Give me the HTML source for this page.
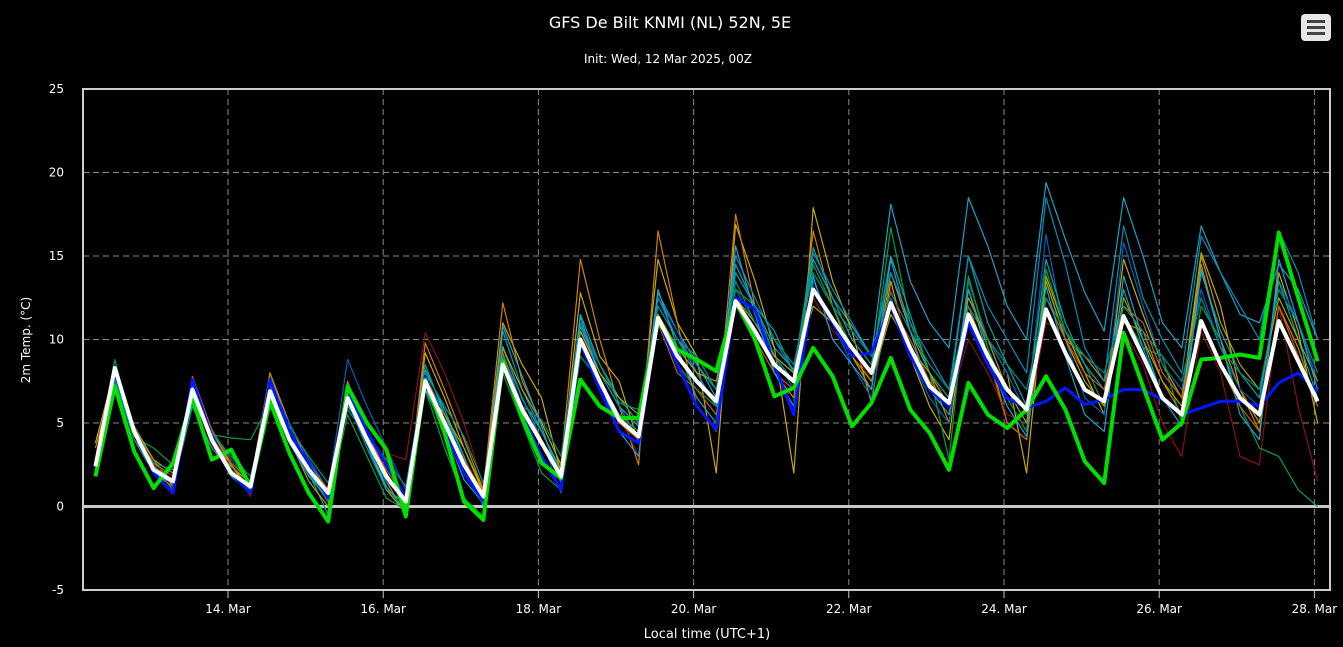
<!DOCTYPE html>
<html><head><meta charset="utf-8"><style>
html,body{margin:0;padding:0;background:#000;}
svg{display:block;font-family:"DejaVu Sans","Liberation Sans",sans-serif;}
</style></head><body>
<svg id="c" width="1343" height="647" xmlns="http://www.w3.org/2000/svg">
<rect width="1343" height="647" fill="#000"/>
<text x="670" y="28" fill="#fff" font-size="16" text-anchor="middle">GFS De Bilt KNMI (NL) 52N, 5E</text>
<text x="668" y="63" fill="#fff" font-size="12" text-anchor="middle">Init: Wed, 12 Mar 2025, 00Z</text>
<g>
<rect x="1301" y="14" width="30" height="27" rx="4" fill="#e6e6e6"/>
<rect x="1307" y="20" width="18" height="3" fill="#444"/>
<rect x="1307" y="26" width="18" height="3" fill="#444"/>
<rect x="1307" y="32" width="18" height="3" fill="#444"/>
</g>
<g id="grid"></g>
<g id="series"></g>
<rect x="83" y="89" width="1247" height="501" fill="none" stroke="#cccccc" stroke-width="2"/>
<text transform="translate(30,340) rotate(-90)" fill="#fff" font-size="12" text-anchor="middle">2m Temp. (°C)</text>
<text x="707" y="638" fill="#fff" font-size="13" text-anchor="middle">Local time (UTC+1)</text>
</svg>
<script>
const yTicks=[-5,0,5,10,15,20,25];
const xTickLabels=["14. Mar","16. Mar","18. Mar","20. Mar","22. Mar","24. Mar","26. Mar","28. Mar"];
const xTickHours=[48,96,144,192,240,288,336,384];
const startHour=7, stepHours=6;
const mean=[2.4,8.3,4.5,2.2,1.5,7.0,4.0,2.0,1.2,6.9,4.0,2.2,0.8,6.5,4.0,1.8,0.3,7.5,5.0,2.5,0.6,8.5,5.8,3.8,1.8,10.0,7.5,5.2,4.2,11.3,9.0,7.5,6.3,12.3,10.5,8.5,7.5,13.0,11.2,9.5,8.0,12.2,9.5,7.2,6.2,11.5,9.0,7.0,5.8,11.8,9.2,7.0,6.3,11.4,9.0,6.5,5.5,11.1,8.5,6.5,5.5,11.1,8.7,6.3];
const control=[1.8,7.2,3.3,1.1,2.6,6.5,2.8,3.4,1.2,6.3,3.2,0.8,-0.9,7.2,5.0,3.4,-0.6,7.6,4.4,0.3,-0.8,8.7,5.3,2.6,1.7,7.6,6.0,5.3,5.3,11.1,9.4,8.8,8.1,12.3,10.0,6.6,7.1,9.5,7.8,4.8,6.2,8.9,5.8,4.4,2.2,7.4,5.5,4.7,5.8,7.8,5.8,2.7,1.4,10.4,7.2,4.0,5.0,8.8,8.9,9.1,8.9,16.4,12.5,8.7];
const oper=[2.3,8.0,4.6,2.0,0.8,7.6,4.2,2.0,0.8,7.6,4.5,2.5,0.5,6.8,4.5,2.5,0.5,7.8,4.5,2.0,0.3,8.7,5.5,3.0,1.0,9.8,7.0,4.5,3.8,11.2,8.5,6.0,4.6,12.5,11.8,8.5,5.5,13.0,11.0,9.0,9.2,12.0,9.0,7.0,6.0,11.0,8.5,6.5,5.9,6.3,7.1,6.1,6.4,7.0,7.0,6.4,5.5,5.9,6.3,6.3,6.0,7.4,8.0,6.9];
const m1=[2.6,8.0,4.6,2.4,1.6,7.2,4.3,2.2,1.0,7.0,4.4,2.6,1.0,6.0,4.5,2.0,0.0,8.2,5.8,3.0,0.4,9.6,6.4,4.5,2.2,10.8,8.0,6.0,4.8,12.8,10.5,8.6,6.5,14.5,12.0,9.5,8.2,14.8,12.5,10.8,9.0,18.1,13.5,11.0,9.5,18.5,15.6,12.0,10.0,19.4,16.0,12.8,10.5,18.5,15.0,11.0,9.5,16.8,14.0,11.5,11.0,14.5,13.0,10.0];
const m2=[3.8,8.2,4.4,2.6,1.8,6.8,4.2,2.4,1.4,8.0,4.6,2.4,0.4,6.8,3.8,1.0,-0.4,9.2,6.5,3.5,0.8,11.0,8.5,6.5,2.0,12.8,9.0,7.5,3.8,14.8,11.0,9.0,2.0,16.9,13.5,9.5,2.0,17.9,13.5,10.5,6.2,13.5,9.0,6.0,4.0,13.5,10.0,8.0,2.0,13.8,10.5,8.0,5.5,14.8,11.5,8.5,6.5,15.2,12.0,7.0,5.0,14.0,10.5,5.0];
const m3=[3.5,7.8,4.6,2.8,1.2,7.2,4.5,2.5,1.0,8.0,5.0,2.5,0.8,7.5,4.2,1.5,-0.5,9.8,7.0,4.0,1.0,12.2,7.5,5.0,2.5,14.8,10.0,6.0,2.5,16.5,11.0,6.0,4.5,17.5,12.0,8.0,6.5,16.5,12.0,9.0,7.0,14.0,10.5,8.0,5.0,13.0,9.5,5.0,4.0,13.5,10.0,9.0,7.5,11.0,10.5,7.5,5.5,14.5,10.0,7.0,4.5,12.0,9.5,6.0];
const m4=[2.8,7.5,4.2,2.5,1.8,7.0,3.6,2.5,0.6,7.2,4.0,2.0,0.2,6.8,5.0,3.2,2.8,10.4,8.0,5.0,1.2,8.5,6.0,4.0,1.5,10.5,7.5,5.5,3.0,11.5,9.0,7.5,6.0,12.0,10.0,9.0,8.0,12.5,10.5,9.5,7.5,13.0,9.5,7.0,6.0,10.0,8.0,5.5,5.0,11.0,10.5,8.5,7.0,10.5,8.5,5.0,3.0,10.5,8.0,3.0,2.5,12.0,6.0,1.5];
const m5=[2.2,8.0,4.8,2.4,1.0,7.6,4.6,2.8,1.4,7.4,5.0,2.8,1.0,8.8,6.0,3.5,1.0,7.0,5.0,3.0,0.4,9.0,6.5,4.0,0.8,10.5,8.5,6.5,5.0,12.5,10.5,8.0,6.0,13.0,11.0,9.0,7.0,13.5,11.0,8.5,6.5,12.5,9.0,6.5,5.0,13.5,10.0,8.0,5.5,16.3,10.0,6.5,5.5,15.8,12.0,8.5,7.0,13.0,9.5,7.0,6.0,13.5,11.0,7.5];
const m6=[2.0,8.8,4.2,3.5,2.5,6.5,4.3,4.1,4.0,6.2,4.2,2.0,0.3,5.5,3.0,0.5,-0.2,7.0,3.5,0.5,-0.6,8.0,5.0,2.0,1.0,9.0,7.5,5.5,4.5,11.0,8.5,7.0,6.0,13.0,12.0,9.0,7.5,14.5,12.0,9.5,8.0,16.7,11.0,8.0,2.8,13.8,9.5,6.5,4.5,14.2,10.5,8.5,6.0,11.5,9.5,9.0,5.0,12.0,10.0,6.0,3.5,3.0,1.0,0.0];
const m7=[2.4,7.8,4.0,2.0,1.2,6.0,3.5,2.2,0.8,7.5,4.5,2.0,-0.5,6.5,3.5,1.0,0.2,8.5,5.5,3.0,0.0,10.5,7.0,4.5,2.0,11.5,8.5,6.5,5.0,12.0,10.0,8.5,7.0,14.0,12.0,10.5,8.0,15.5,12.5,10.0,8.5,15.0,11.5,8.0,6.5,15.0,11.0,8.5,6.0,14.8,11.0,8.5,7.0,13.0,9.5,6.5,5.5,14.0,10.5,8.0,6.5,13.5,10.0,6.5];
const m8=[2.2,7.5,4.5,2.2,1.6,6.6,4.0,2.0,1.2,6.5,4.0,2.0,0.6,6.3,3.5,1.5,0.4,7.8,5.5,2.5,0.5,9.5,6.5,4.0,1.5,11.0,8.0,6.0,4.0,12.5,10.0,8.0,6.0,15.0,12.5,10.0,8.0,15.2,13.0,11.0,9.0,14.0,11.0,9.0,7.0,15.0,12.0,10.0,8.0,18.5,14.5,9.5,7.5,16.8,12.5,10.0,8.0,16.2,14.0,12.0,10.0,16.5,14.0,10.0];
const m9=[2.6,8.0,4.8,2.8,2.0,7.0,4.5,2.5,0.8,6.2,4.0,1.5,0.0,6.8,4.5,2.0,0.0,7.0,5.5,3.5,1.0,9.5,7.0,5.0,2.5,10.5,8.0,6.5,5.5,11.5,9.5,8.0,7.5,12.5,11.0,9.0,8.0,12.0,11.0,9.0,7.5,11.5,9.5,8.0,6.0,12.5,10.0,7.0,5.0,13.5,10.0,7.5,6.0,12.5,10.0,7.5,6.0,15.0,11.0,8.5,7.0,12.5,10.0,7.5];
const m10=[2.0,8.0,4.5,2.4,1.0,7.8,4.6,2.6,1.5,7.5,4.6,2.5,1.0,6.8,4.2,2.2,0.5,8.0,5.0,2.8,0.8,9.2,6.0,4.0,2.0,10.0,7.0,5.0,4.0,11.0,8.0,7.0,5.5,12.5,10.0,8.0,7.0,13.0,11.0,9.5,8.0,12.0,10.0,7.5,6.0,12.0,9.0,5.0,4.0,12.5,10.0,8.0,7.0,12.0,11.0,8.0,6.5,11.0,8.5,6.0,4.5,12.0,9.0,6.0];
const m11=[2.5,7.6,4.0,2.6,2.2,6.2,4.4,3.0,1.8,6.6,4.8,3.0,1.4,5.8,4.2,2.8,1.2,8.0,6.0,4.2,1.4,9.0,6.0,5.2,3.0,11.0,8.5,6.2,5.8,12.0,10.0,9.0,7.0,13.5,11.0,10.0,8.5,14.0,12.0,10.5,9.0,12.8,10.5,8.5,7.0,12.0,10.0,8.5,7.0,12.5,10.5,9.0,8.0,12.0,10.5,9.0,7.5,12.5,9.5,8.0,7.0,13.0,11.0,8.0];
const m12=[2.1,7.9,4.4,2.0,1.4,7.2,3.8,1.8,0.9,7.4,3.8,1.8,0.5,7.0,3.8,1.2,-0.3,7.0,4.6,1.6,0.2,10.8,7.8,4.8,1.4,11.4,7.5,4.5,3.0,13.0,9.5,6.5,5.0,15.6,11.5,8.0,6.0,13.8,10.0,8.5,7.0,14.8,10.5,7.0,5.5,13.0,9.0,6.0,4.2,13.2,9.0,5.5,4.5,13.8,10.0,6.5,4.8,14.2,10.0,5.5,4.0,14.8,11.0,7.0];
const members=[m1,m2,m3,m4,m5,m6,m7,m8,m9,m10,m11,m12];
const memberColors=["#1aa0c8","#c8a800","#d08000","#8b1010","#0060c0","#00a040","#00a8a8","#0090b8","#b0a000","#c06010","#009080","#20a0d0"];

const X0=83,X1=1330,Y0=89,Y1=590,YMIN=-5,YMAX=25;
const xS=h=>228+(h-48)*77.6/24;
const yS=v=>Y1-(v-YMIN)*(Y1-Y0)/(YMAX-YMIN);
const NS="http://www.w3.org/2000/svg";
const svg=document.getElementById('c'),grid=document.getElementById('grid'),ser=document.getElementById('series');
function mk(t,a,p){const e=document.createElementNS(NS,t);for(const k in a)e.setAttribute(k,a[k]);p.appendChild(e);return e;}
yTicks.forEach(v=>{
  const y=yS(v);
  if(v!==YMIN&&v!==YMAX&&v!==0){const l=mk('line',{x1:X0,x2:X1,y1:y,y2:y,stroke:'#888','stroke-width':1,'stroke-dasharray':'6,4'},grid);
  
  }
  const t=mk('text',{x:64,y:y+4,fill:'#fff','font-size':12,'text-anchor':'end'},svg);t.textContent=v;
  
  
});
xTickHours.forEach((h,i)=>{
  const x=xS(h);
  const l=mk('line',{x1:x,x2:x,y1:Y0,y2:Y1,stroke:'#888','stroke-width':1,'stroke-dasharray':'6,4'},grid);
  
  
  const tk=mk('line',{x1:x,x2:x,y1:Y1,y2:Y1+8,stroke:'#ccc','stroke-width':1},svg);
  
  
  const t=mk('text',{x:x,y:613,fill:'#fff','font-size':12,'text-anchor':'middle'},svg);t.textContent=xTickLabels[i];
  
  
});
const z=mk('line',{x1:X0,x2:X1,y1:yS(0),y2:yS(0),stroke:'#c8c8c8','stroke-width':3},grid);


const pts=a=>a.map((v,i)=>xS(startHour+i*stepHours).toFixed(1)+','+yS(v).toFixed(1)).join(' ');
members.forEach((m,i)=>{
  const p=mk('polyline',{points:pts(m),fill:'none',stroke:memberColors[i],'stroke-width':1.2,'stroke-linejoin':'round'},ser);
  
  
});
const pb=mk('polyline',{points:pts(oper),fill:'none',stroke:'#0018ff','stroke-width':3,'stroke-linejoin':'round'},ser);


const pg=mk('polyline',{points:pts(control),fill:'none',stroke:'#00e000','stroke-width':4,'stroke-linejoin':'round'},ser);


const pw=mk('polyline',{points:pts(mean),fill:'none',stroke:'#ffffff','stroke-width':4,'stroke-linejoin':'round'},ser);


</script>
</body></html>
